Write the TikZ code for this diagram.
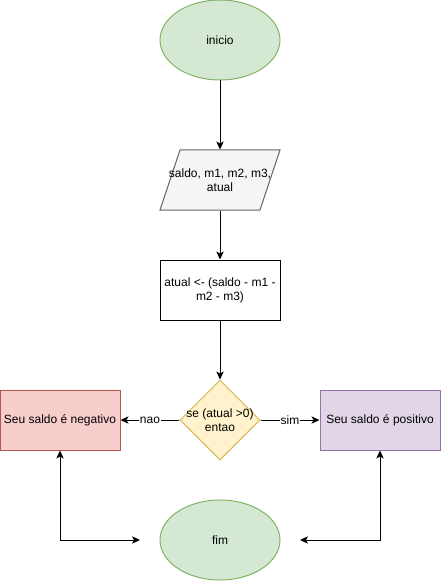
\documentclass[tikz,border=0pt]{standalone}
\usepackage{fontspec}
\setmainfont{Liberation Sans}
\usetikzlibrary{arrows.meta,shapes}
\definecolor{verdeFill}{HTML}{D5E8D4}
\definecolor{verdeLinha}{HTML}{82B366}
\definecolor{cinzaFill}{HTML}{F5F5F5}
\definecolor{cinzaLinha}{HTML}{666666}
\definecolor{amareloFill}{HTML}{FFF2CC}
\definecolor{amareloLinha}{HTML}{D6B656}
\definecolor{vermelhoFill}{HTML}{F8CECC}
\definecolor{vermelhoLinha}{HTML}{B85450}
\definecolor{roxoFill}{HTML}{E1D5E7}
\definecolor{roxoLinha}{HTML}{9673A6}
\tikzstyle{terminal}=[ellipse,draw=verdeLinha,fill=verdeFill,minimum width=90pt,minimum height=60pt,inner sep=0pt]
\tikzstyle{entrada}=[trapezium,trapezium left angle=71.565,trapezium right angle=108.435,draw=cinzaLinha,fill=cinzaFill,inner xsep=30pt,inner ysep=22.5pt]
\tikzstyle{processo}=[rectangle,draw=black,fill=white,minimum width=90pt,minimum height=45pt,inner sep=0pt,align=center]
\tikzstyle{decisao}=[diamond,draw=amareloLinha,fill=amareloFill,minimum size=60pt,inner sep=0pt]
\tikzstyle{caixa}=[rectangle,minimum width=90pt,minimum height=45pt,inner sep=0pt]
\tikzstyle{edge} = [draw,line width=0.75pt,->]
\tikzstyle{rotulo} = [fill=white,inner sep=0.5pt]

\begin{document}
\begin{tikzpicture}[x=0.75pt,y=-0.75pt,line width=0.75pt,>={Stealth[length=6pt,width=5.5pt,inset=1.5pt]},
    font=\fontsize{9pt}{10.5pt}\selectfont]

    \useasboundingbox (0,0) rectangle (441,581);

    \node[terminal] (inicio) at (220,40) {inicio};
    \node[entrada] (dados) at (220,180) {};
    \node[align=center] (dadosTxt) at (dados.center) {saldo, m1, m2, m3,\\atual};
    \node[processo] (calculo) at (220,290) {atual <- (saldo - m1 -\\m2 - m3)};
    \node[decisao] (se) at (220,420) {};
    \node[align=center] (seTxt) at (se.center) {se (atual >0)\\entao};
    \node[caixa, draw=vermelhoLinha, fill=vermelhoFill] (negativo) at (60,420) {Seu saldo é negativo};
    \node[caixa, draw=roxoLinha, fill=roxoFill] (positivo) at (380,420) {Seu saldo é positivo};
    \node[terminal] (fim) at (220,540) {fim};

    \coordinate (fimEsq) at (140,540);
    \coordinate (fimDir) at (300,540);

    \foreach \source/ \dest in {inicio/dados, dados/calculo, calculo/se}
        \path[edge] (\source) -- (\dest);

    \path[edge] (se) -- node[rotulo] {nao} (negativo);
    \path[edge] (se) -- node[rotulo] {sim} (positivo);

    \path[edge, <->] (negativo.south) |- (fimEsq);
    \path[edge, <->] (positivo.south) |- (fimDir);

\end{tikzpicture}
\end{document}
